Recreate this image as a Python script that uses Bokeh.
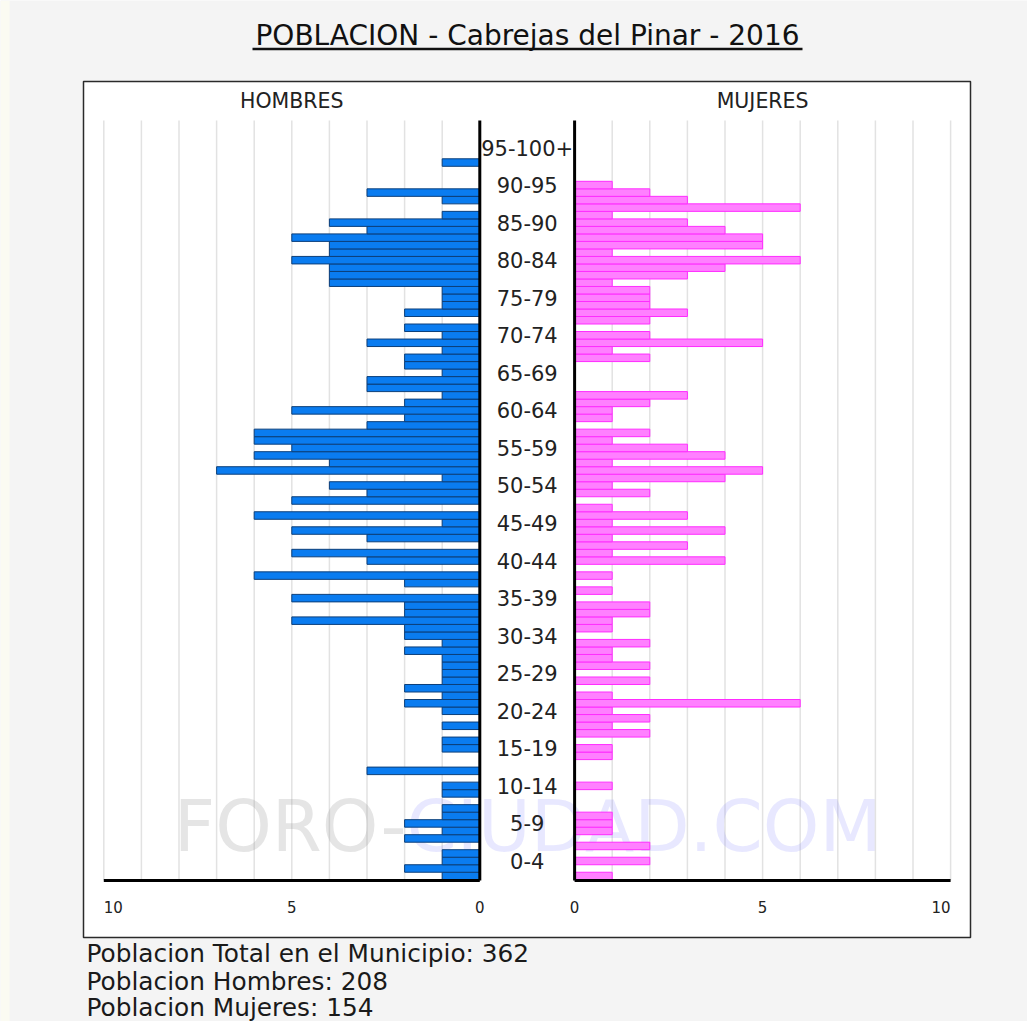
from bokeh.plotting import figure
from bokeh.models import Range1d, ColumnDataSource
from bokeh.core.properties import value
from bokeh.embed import file_html
from bokeh.resources import INLINE

# ---------------- data ----------------
TITLE = "POBLACION - Cabrejas del Pinar - 2016"
ages = list(range(0, 101))
hombres = [1, 2, 1, 1, 0, 2, 1, 2, 1, 1,
           0, 1, 1, 0, 3, 0, 0, 1, 1, 0,
           1, 0, 1, 2, 1, 2, 1, 1, 1, 1,
           2, 1, 2, 2, 5, 2, 2, 5, 0, 2,
           6, 0, 3, 5, 0, 3, 5, 1, 6, 0,
           5, 3, 4, 1, 7, 4, 6, 5, 6, 6,
           3, 2, 5, 2, 1, 3, 3, 1, 2, 2,
           1, 3, 1, 2, 0, 2, 1, 1, 1, 4,
           4, 4, 5, 4, 4, 5, 3, 4, 1, 0,
           1, 3, 0, 0, 0, 1, 0, 0, 0, 0,
           0]
mujeres = [1, 0, 2, 0, 2, 0, 1, 1, 1, 0,
           0, 0, 1, 0, 0, 0, 1, 1, 0, 2,
           1, 2, 1, 6, 1, 0, 2, 0, 2, 1,
           1, 2, 0, 1, 1, 2, 2, 0, 1, 0,
           1, 0, 4, 1, 3, 1, 4, 1, 3, 1,
           0, 2, 1, 4, 5, 1, 4, 3, 1, 2,
           0, 1, 1, 2, 3, 0, 0, 0, 0, 2,
           1, 5, 2, 0, 2, 3, 2, 2, 2, 1,
           3, 4, 6, 1, 5, 5, 4, 3, 1, 6,
           3, 2, 1, 0, 0, 0, 0, 0, 0, 0,
           0]
group_labels = ["0-4", "5-9", "10-14", "15-19", "20-24", "25-29", "30-34",
                "35-39", "40-44", "45-49", "50-54", "55-59", "60-64", "65-69",
                "70-74", "75-79", "80-84", "85-90", "90-95", "95-100+"]
group_centers = [2, 7, 12, 17, 22, 27, 32, 37, 42, 47, 52, 57, 62, 67, 72,
                 77, 82, 87, 92, 97]
tick_values = [0, 5, 10]
tick_labels = ["0", "5", "10"]
grid_values = [1, 2, 3, 4, 5, 6, 7, 8, 9, 10]
summary = ["Poblacion Total en el Municipio: 362",
           "Poblacion Hombres: 208",
           "Poblacion Mujeres: 154"]

# ---------------- layout constants (canvas px) ----------------
W, H = 1027, 1021
MEN_ZERO_PX, WOMEN_ZERO_PX, UNIT_PX = 479.3, 574.1, 37.6
AGE0_PX, ROW_PX = 875.5, 7.51
AGE_LO, AGE_HI = -0.6, 100.6
FONT = value("DejaVu Sans")

p = figure(width=W, height=H, x_range=Range1d(0, W), y_range=Range1d(H, 0),
           output_backend="svg", toolbar_location=None,
           x_axis_location=None, y_axis_location=None, min_border=0,
           outline_line_color=None, background_fill_color="#f4f4f4",
           border_fill_color="#f4f4f4")
p.xgrid.visible = False
p.ygrid.visible = False
p.extra_x_ranges = {
    "men": Range1d(MEN_ZERO_PX / UNIT_PX, -(W - MEN_ZERO_PX) / UNIT_PX),
    "women": Range1d(-WOMEN_ZERO_PX / UNIT_PX, (W - WOMEN_ZERO_PX) / UNIT_PX),
}
p.extra_y_ranges = {"age": Range1d((AGE0_PX - H) / ROW_PX, AGE0_PX / ROW_PX)}

# page edge strip and chart box
p.quad(left=0, right=9, top=0, bottom=H, fill_color="#fbfbf2", line_color=None)
p.quad(left=83, right=970, top=81, bottom=937, fill_color="white",
       line_color="#2a2a2a", line_width=1.5)

# title
p.text(x=[527], y=[35], text=[TITLE], text_font=FONT, text_font_size="28px",
       text_align="center", text_baseline="middle", text_color="#111111")
p.segment(x0=[252], x1=[802], y0=[48.5], y1=[48.5], line_color="#111111",
          line_width=2.5)

# gridlines
for rng in ("men", "women"):
    p.segment(x0=grid_values, x1=grid_values, y0=AGE_LO, y1=AGE_HI,
              x_range_name=rng, y_range_name="age",
              line_color="#e2e2e2", line_width=1.5)

# watermark
p.text(x=[406], y=[825], text=["FORO-"], text_font=FONT, text_font_size="72px",
       text_align="right", text_baseline="middle", text_color="#999999",
       text_alpha=0.25)
p.text(x=[406], y=[825], text=["CIUDAD.COM"], text_font=FONT,
       text_font_size="72px", text_align="left", text_baseline="middle",
       text_color="#6666ff", text_alpha=0.15)

# bars
src = ColumnDataSource(dict(age=ages, h=hombres, m=mujeres))
p.hbar(y="age", left=0, right="h", height=1, source=src,
       x_range_name="men", y_range_name="age",
       fill_color="#0a7cf0", line_color="#0c3f7a", line_width=1)
p.hbar(y="age", left=0, right="m", height=1, source=src,
       x_range_name="women", y_range_name="age",
       fill_color="#ff80ff", line_color="#ff2cff", line_width=1)

# axis lines
for rng in ("men", "women"):
    p.segment(x0=[0], x1=[0], y0=[AGE_LO], y1=[AGE_HI], x_range_name=rng,
              y_range_name="age", line_color="black", line_width=3)
    p.segment(x0=[0], x1=[10], y0=[AGE_LO], y1=[AGE_LO], x_range_name=rng,
              y_range_name="age", line_color="black", line_width=3)

# panel headers
p.text(x=[5], y=[100], text=["HOMBRES"], x_range_name="men", text_font=FONT,
       text_font_size="20.5px", text_align="center", text_baseline="middle",
       text_color="#222222")
p.text(x=[5], y=[100], text=["MUJERES"], x_range_name="women", text_font=FONT,
       text_font_size="20.5px", text_align="center", text_baseline="middle",
       text_color="#222222")

# tick labels
men_align = ["center", "center", "left"]
women_align = ["center", "center", "right"]
for rng, aligns in (("men", men_align), ("women", women_align)):
    for v, lab, al in zip(tick_values, tick_labels, aligns):
        p.text(x=[v], y=[906], text=[lab], x_range_name=rng, text_font=FONT,
               text_font_size="15px", text_align=al, text_baseline="middle",
               text_color="#222222")

# age group labels
gsrc = ColumnDataSource(dict(y=group_centers, t=group_labels))
p.text(x=(MEN_ZERO_PX + WOMEN_ZERO_PX) / 2, y="y", text="t", source=gsrc,
       y_range_name="age", text_font=FONT, text_font_size="21px",
       text_align="center", text_baseline="middle", text_color="#222222")

# summary lines
p.text(x=[86, 86, 86], y=[953, 981, 1007], text=summary, text_font=FONT,
       text_font_size="24.8px", text_align="left", text_baseline="middle",
       text_color="#1a1a1a")

open("out.html", "w").write(file_html(p, INLINE))
